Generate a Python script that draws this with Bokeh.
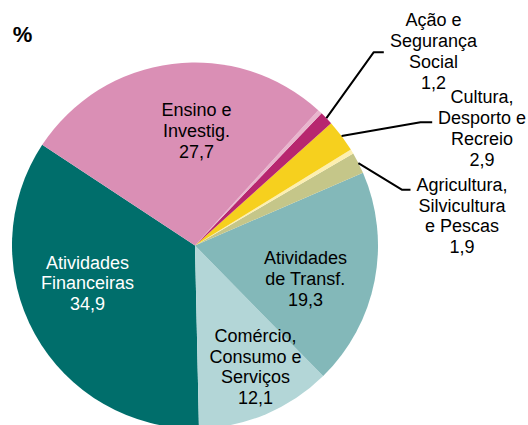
import math
from bokeh.plotting import figure
from bokeh.models import Range1d, ColumnDataSource
from bokeh.core.properties import value
from bokeh.embed import file_html
from bokeh.resources import INLINE

# ---- data (percent), in drawing order (anticlockwise) ----
categories = [
    "Atividades\nFinanceiras",
    "Comércio,\nConsumo e\nServiços",
    "Atividades\nde Transf.",
    "Agricultura,\nSilvicultura\ne Pescas",
    "",
    "Cultura,\nDesporto e\nRecreio",
    "Ação e\nSegurança\nSocial",
    "",
    "Ensino e\nInvestig.",
]
values = [34.9, 12.1, 19.3, 1.9, 0.4, 2.9, 1.2, 0.4, 27.7]
colors = ["#006e6b", "#b3d6d7", "#83b8b9", "#c5c689", "#fcefb0",
          "#f6d01e", "#b7266f", "#e8b5cd", "#da8fb5"]
text_colors = ["white", "black", "black", "black", "black",
               "black", "black", "black", "black"]

# ---- layout (reference pixel space, y downward) ----
CX, CY, R = 194.5, 245.0, 183.0
START_DEG = 146.6
label_pos = {
    0: (87, 283),
    1: (255, 366.5),
    2: (305, 278.5),
    3: (461.5, 215.5),
    5: (481.5, 128),
    6: (433, 51),
    8: (196, 130.5),
}
# leader lines: elbow and end points for outside labels
leaders = {
    6: [(373.3, 51.7), (383.3, 51.7)],
    5: [(420.0, 121.7), (431.7, 121.7)],
    3: [(401.7, 189.3), (410.0, 189.3)],
}

W, H = 528, 425
p = figure(width=W, height=H, x_range=Range1d(0, W), y_range=Range1d(-H, 0),
           output_backend="svg", toolbar_location=None, min_border=0,
           x_axis_location=None, y_axis_location=None)
p.grid.visible = False
p.outline_line_color = None
p.background_fill_color = "white"
p.border_fill_color = "white"

total = sum(values)
starts, ends = [], []
a = START_DEG
for v in values:
    span = v / total * 360.0
    starts.append(math.radians(a))
    ends.append(math.radians(a + span))
    a += span

src = ColumnDataSource(dict(start=starts, end=ends, color=colors))
p.wedge(x=CX, y=-CY, radius=R, start_angle="start", end_angle="end",
        direction="anticlock", fill_color="color", line_color=None, source=src)

# leader lines
for i, pts in leaders.items():
    mid = (starts[i] + ends[i]) / 2
    sx = CX + R * math.cos(mid)
    sy = CY - R * math.sin(mid)
    xs = [sx] + [q[0] for q in pts]
    ys = [-sy] + [-q[1] for q in pts]
    p.line(xs, ys, line_color="black", line_width=2)

# labels
lx, ly, lt, lc = [], [], [], []
for i, (x, y) in label_pos.items():
    lx.append(x)
    ly.append(-y)
    lt.append(categories[i] + "\n" + f"{values[i]:.1f}".replace(".", ","))
    lc.append(text_colors[i])
lsrc = ColumnDataSource(dict(x=lx, y=ly, text=lt, color=lc))
p.text(x="x", y="y", text="text", source=lsrc, text_color="color",
       text_font=value("Liberation Sans"), text_font_size="18px",
       text_align="center", text_baseline="middle", text_line_height=1.04)

p.text(x=[22], y=[-34], text=["%"], text_font=value("Liberation Sans"),
       text_font_size="22px", text_font_style="bold", text_color="black",
       text_align="center", text_baseline="middle")

open("out.html", "w").write(file_html(p, INLINE))
